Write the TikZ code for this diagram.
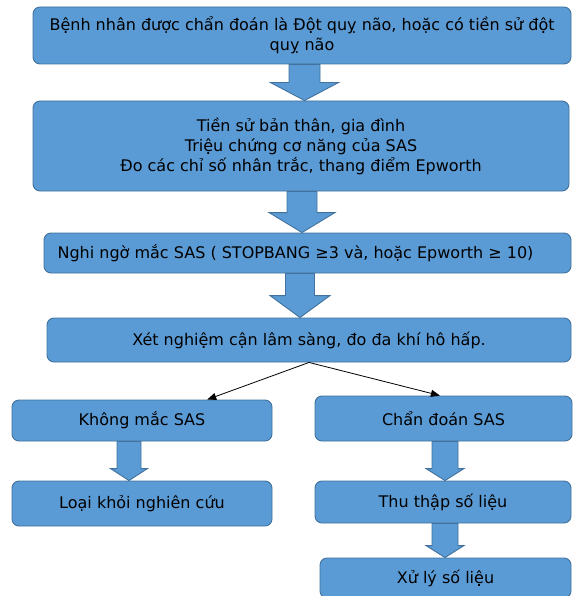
\documentclass[tikz,border=0pt]{standalone}
\usepackage{fontspec}
\setmainfont{DejaVu Sans}
\usetikzlibrary{arrows.meta,calc}
\definecolor{boxfill}{RGB}{91,155,213}
\definecolor{boxline}{RGB}{65,113,156}
\tikzset{
  box/.style={draw=boxline, fill=boxfill, line width=0.9pt, rounded corners=7pt,
    align=center, inner sep=0pt, text=black, font=\fontsize{16}{20}\selectfont},
  blockarr/.style={draw=boxline, fill=boxfill, line width=0.9pt, line join=miter},
  thin arrow/.style={draw=black, line width=0.8pt, -{Triangle[length=9pt,width=7pt]}}
}
% #1 x centre, #2 upper node, #3 lower node, #4 shaft half, #5 head half, #6 head length
\newcommand\blockarrow[6]{%
  \path let \p1=(#2.south), \p2=(#3.north) in
    [blockarr] (#1-#4,\y1) -- (#1+#4,\y1) -- (#1+#4,\y2+#6) -- (#1+#5,\y2+#6)
    -- (#1,\y2) -- (#1-#5,\y2+#6) -- (#1-#4,\y2+#6) -- cycle;}
\begin{document}
\begin{tikzpicture}[x=1pt,y=1pt]
\useasboundingbox (0,0) rectangle (572,-596);
\node[box, minimum width=538, minimum height=57] (b1) at (302,-35.5)
  {Bệnh nhân được chẩn đoán là Đột quỵ não, hoặc có tiền sử đột\\quỵ não};
\node[box, minimum width=536, minimum height=90] (b2) at (301,-146)
  {Tiền sử bản thân, gia đình\\Triệu chứng cơ năng của SAS\\Đo các chỉ số nhân trắc, thang điểm Epworth};
\node[box, minimum width=527, minimum height=40] (b3) at (307.5,-253)
  {Nghi ngờ mắc SAS ( STOPBANG ≥3 và, hoặc Epworth ≥ 10)\hspace{24pt}};
\node[box, minimum width=524, minimum height=44] (b4) at (309,-340)
  {Xét nghiệm cận lâm sàng, đo đa khí hô hấp.};
\node[box, minimum width=260, minimum height=41] (lb) at (142,-420.5)
  {Không mắc SAS};
\node[box, minimum width=257, minimum height=45] (rb) at (443.5,-418.5)
  {Chẩn đoán SAS};
\node[box, minimum width=260, minimum height=45] (lc) at (142,-503.5)
  {Loại khỏi nghiên cứu};
\node[box, minimum width=256, minimum height=42] (rc) at (443,-502)
  {Thu thập số liệu};
\node[box, minimum width=251, minimum height=40] (rd) at (445.5,-578)
  {Xử lý số liệu};
\blockarrow{304.5}{b1}{b2}{15.5}{34}{18}
\blockarrow{302}{b2}{b3}{15}{33}{20}
\blockarrow{300}{b3}{b4}{14.5}{30}{22}
\blockarrow{129}{lb}{lc}{12}{18.5}{12}
\blockarrow{445}{rb}{rc}{13}{19}{12}
\blockarrow{445}{rc}{rd}{13}{19}{12}
\draw[thin arrow] (b4.south) -- ($(lb.north west)!0.75!(lb.north east)$);
\draw[thin arrow] (b4.south) -- ($(rb.north west)!0.486!(rb.north east)$);
\end{tikzpicture}
\end{document}
